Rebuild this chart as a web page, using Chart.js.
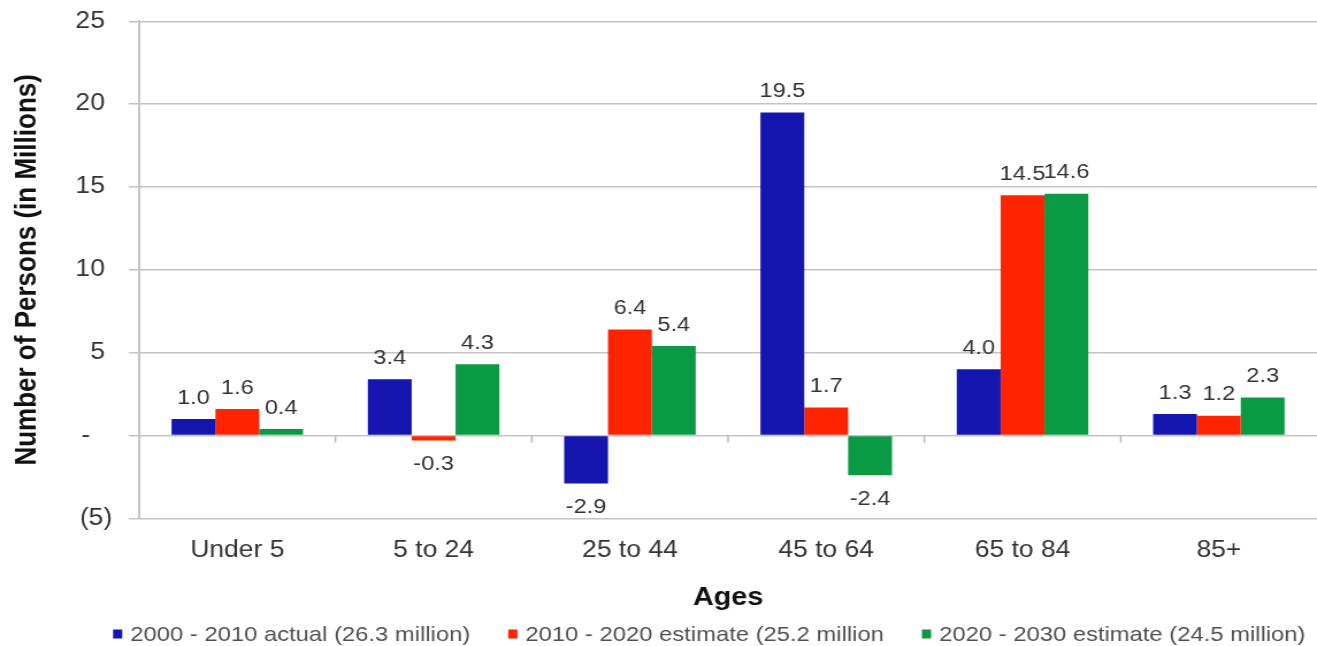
<!DOCTYPE html>
<html>
<head>
<meta charset="utf-8">
<script src="https://cdn.jsdelivr.net/npm/chart.js@4.4.0/dist/chart.umd.min.js"></script>
<style>
  html, body { margin: 0; padding: 0; background: #ffffff; overflow: hidden; }
  #wrap { width: 1145px; height: 646px; transform: scaleX(1.1502); transform-origin: 0 0; }
</style>
</head>
<body>
<div id="wrap"><canvas id="c"></canvas></div>
<script>
const categories = ['Under 5', '5 to 24', '25 to 44', '45 to 64', '65 to 84', '85+'];
const seriesNames = ['2000 - 2010 actual (26.3 million)', '2010 - 2020 estimate (25.2 million', '2020 - 2030 estimate (24.5 million)'];
const actual2000_2010 = [1.0, 3.4, -2.9, 19.5, 4.0, 1.3];
const estimate2010_2020 = [1.6, -0.3, 6.4, 1.7, 14.5, 1.2];
const estimate2020_2030 = [0.4, 4.3, 5.4, -2.4, 14.6, 2.3];
const seriesColors = ['#1515b0', '#ff2400', '#0b9a44'];
const yTicks = [-5, 0, 5, 10, 15, 20, 25];

const FONT = "'Liberation Sans', Arial, sans-serif";

const valueLabels = {
  id: 'valueLabels',
  afterDatasetsDraw(chart) {
    const ctx = chart.ctx;
    ctx.save();
    ctx.font = '20.5px ' + FONT;
    ctx.fillStyle = '#333333';
    ctx.textAlign = 'center';
    ctx.textBaseline = 'middle';
    chart.data.datasets.forEach((ds, di) => {
      const meta = chart.getDatasetMeta(di);
      meta.data.forEach((bar, i) => {
        const v = ds.data[i];
        const y = v >= 0 ? bar.y - 21 : bar.y + 24;
        ctx.fillText(v.toFixed(1), bar.x, y);
      });
    });
    ctx.restore();
  }
};

const zeroTicks = {
  id: 'zeroTicks',
  afterDraw(chart) {
    const x = chart.scales.x, y = chart.scales.y;
    const ctx = chart.ctx;
    const y0 = y.getPixelForValue(0);
    ctx.save();
    ctx.strokeStyle = '#b8b8b8';
    ctx.lineWidth = 1.5;
    for (let i = 1; i < categories.length; i++) {
      const xb = (x.getPixelForValue(i - 1) + x.getPixelForValue(i)) / 2;
      ctx.beginPath();
      ctx.moveTo(xb, y0);
      ctx.lineTo(xb, y0 + 7);
      ctx.stroke();
    }
    ctx.restore();
  }
};

const bottomLegend = {
  id: 'bottomLegend',
  afterDraw(chart) {
    const ctx = chart.ctx;
    ctx.save();
    ctx.font = '20.7px ' + FONT;
    ctx.textBaseline = 'middle';
    ctx.textAlign = 'left';
    const box = 8, gap = 7, itemGap = 33;
    const items = chart.data.datasets.map(d => ({ text: d.label, color: d.backgroundColor, w: ctx.measureText(d.label).width }));
    let total = 0;
    items.forEach((it, i) => { total += box + gap + it.w + (i < items.length - 1 ? itemGap : 0); });
    let xpos = chart.width - 10 - total;
    const yc = 634;
    items.forEach(it => {
      ctx.fillStyle = it.color;
      ctx.fillRect(xpos, yc - 4.5, box, 9);
      ctx.fillStyle = '#505050';
      ctx.fillText(it.text, xpos + box + gap, yc + 1);
      xpos += box + gap + it.w + itemGap;
    });
    ctx.restore();
  }
};

new Chart(document.getElementById('c'), {
  type: 'bar',
  data: {
    labels: categories,
    datasets: [
      { label: seriesNames[0], data: actual2000_2010, backgroundColor: seriesColors[0] },
      { label: seriesNames[1], data: estimate2010_2020, backgroundColor: seriesColors[1] },
      { label: seriesNames[2], data: estimate2020_2030, backgroundColor: seriesColors[2] }
    ]
  },
  options: {
    responsive: true,
    maintainAspectRatio: false,
    animation: false,
    events: [],
    layout: { padding: { top: 19, left: 4, right: 0, bottom: 33 } },
    datasets: { bar: { categoryPercentage: 0.67, barPercentage: 1.0 } },
    plugins: { legend: { display: false }, tooltip: { enabled: false }, title: { display: false } },
    scales: {
      x: {
        grid: { display: false },
        border: { display: false },
        ticks: { color: '#333333', font: { family: FONT, size: 23 }, padding: 10 },
        title: { display: true, text: 'Ages', color: '#111111', font: { family: FONT, size: 25, weight: 'bold' }, padding: { top: 9, bottom: 0 } }
      },
      y: {
        min: -5, max: 25,
        afterBuildTicks(scale) { scale.ticks = yTicks.map(v => ({ value: v })); },
        grid: { color: '#c4c4c4', lineWidth: 1.5, drawTicks: true, tickLength: 9, tickColor: '#c4c4c4' },
        border: { display: true, color: '#c4c4c4', width: 2 },
        ticks: {
          color: '#333333', font: { family: FONT, size: 23, lineHeight: 0.6 }, padding: 14.4,
          callback(v) { return v === 0 ? '-\u2007 ' : (v < 0 ? '(' + (-v) + ')' : v + ' '); }
        },
        title: { display: true, text: 'Number of Persons (in Millions)', color: '#111111', font: { family: FONT, size: 26, weight: 'bold' }, padding: { top: 4, bottom: 12 } }
      }
    }
  },
  plugins: [valueLabels, zeroTicks, bottomLegend]
});
</script>
</body>
</html>
